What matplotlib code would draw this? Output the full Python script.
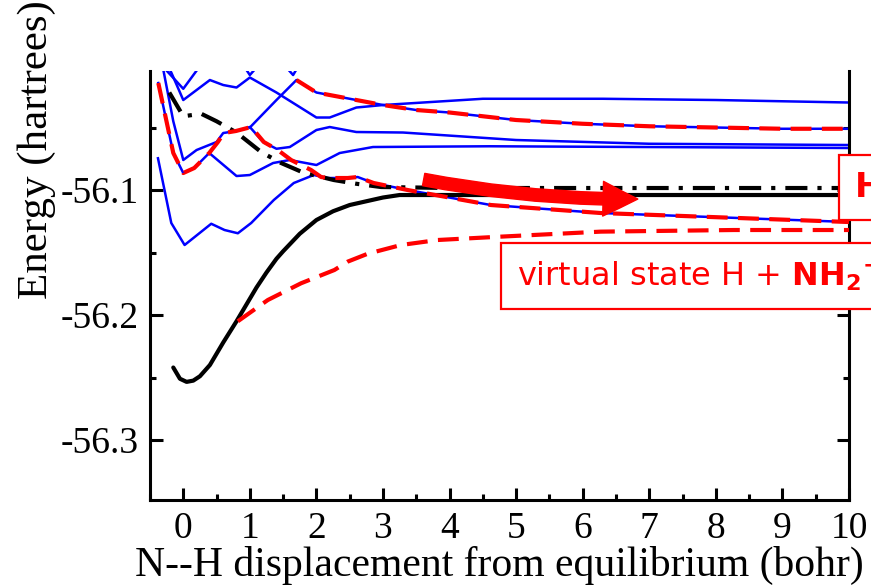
import matplotlib
matplotlib.use("Agg")
import matplotlib.pyplot as plt
from matplotlib.patches import FancyArrowPatch
from matplotlib.ticker import MultipleLocator

plt.rcParams["font.family"] = "Liberation Serif"
plt.rcParams["mathtext.fontset"] = "dejavusans"

# adiabatic states (blue)
x_t0 = [-0.5, 0.0, 0.4, 0.85, 1.0, 1.2, 1.45, 1.65, 1.85]
e_t0 = [-55.99, -56.019, -55.99, -55.996, -56.008, -55.996, -55.996, -56.008, -55.99]

x_t1 = [-0.35, -0.18, 0.0, 0.4, 0.6, 0.8, 1.0, 1.4, 2.0, 2.2, 2.6, 3.0, 4.5, 6.3, 8.0, 10.0]
e_t1 = [-55.99, -56.006, -56.028, -56.012, -56.016, -56.018, -56.010, -56.022, -56.042, -56.042,
        -56.034, -56.032, -56.027, -56.027, -56.028, -56.030]

x_r2 = [1.0, 1.4, 1.7, 2.0, 2.5, 3.0, 3.5, 4.0, 5.0, 6.0, 7.0, 8.0, 9.0, 10.0]
e_r2 = [-56.050, -56.028, -56.012, -56.022, -56.027, -56.032, -56.036, -56.038, -56.044, -56.047,
        -56.049, -56.050, -56.051, -56.051]

x_m1 = [-0.35, -0.15, 0.0, 0.2, 0.5, 0.6, 0.8, 1.0, 1.2, 1.4, 1.6, 2.0, 2.2, 2.6, 3.3, 5.0, 7.0, 10.0]
e_m1 = [-55.99, -56.045, -56.076, -56.068, -56.0616, -56.0544, -56.0528, -56.0496, -56.0616, -56.067,
        -56.0656, -56.052, -56.0496, -56.0536, -56.054, -56.060, -56.063, -56.064]

x_m2 = [-0.375, -0.15, 0.0, 0.165, 0.39, 0.8, 1.0, 1.35, 1.6, 2.0, 2.35, 2.85, 4.6, 10.0]
e_m2 = [-56.0144, -56.0704, -56.0864, -56.0824, -56.0704, -56.0888, -56.088, -56.0784, -56.076,
        -56.080, -56.0704, -56.0656, -56.065, -56.0664]

x_b1 = [-0.38, -0.18, 0.02, 0.42, 0.62, 0.82, 1.02, 1.36, 1.66, 1.96, 2.17, 2.47, 2.62, 2.86, 3.37,
        4.62, 6.27, 10.0]
e_b1 = [-56.0746, -56.1264, -56.144, -56.127, -56.132, -56.1346, -56.1264, -56.108, -56.0944, -56.088,
        -56.0904, -56.0904, -56.0896, -56.0944, -56.1, -56.112, -56.1184, -56.1256]

# diabatic states (red dashed)
x_d1 = [-0.375, -0.15, 0.0, 0.165, 0.39, 0.52, 0.61, 0.79, 1.02, 1.21, 1.42, 1.62, 1.92, 2.07, 2.17,
        2.47, 2.62, 2.86, 3.37, 4.62, 6.27, 10.0]
e_d1 = [-56.0144, -56.0704, -56.0864, -56.0824, -56.0704, -56.0616, -56.0544, -56.0528, -56.0496,
        -56.0616, -56.068, -56.076, -56.084, -56.0896, -56.0904, -56.0904, -56.0896, -56.0944, -56.1,
        -56.112, -56.1184, -56.1256]

x_d2 = x_r2[2:]
e_d2 = e_r2[2:]

# virtual state H + NH2-
x_virt = [0.82, 1.27, 1.77, 2.27, 2.47, 2.77, 3.27, 3.82, 4.77, 6.27, 8.27, 10.0]
e_virt = [-56.205, -56.188, -56.1746, -56.164, -56.1573, -56.151, -56.144, -56.140, -56.1373,
          -56.1333, -56.132, -56.132]

# ground state (black) and anion asymptote (dash-dot)
x_gs = [-0.15, -0.05, 0.05, 0.15, 0.25, 0.4, 0.5, 0.6, 0.7, 0.8, 0.9, 1.0, 1.1, 1.25, 1.4, 1.5, 1.75,
        2.0, 2.25, 2.5, 2.75, 3.0, 3.25, 4.0, 6.0, 8.0, 10.0]
e_gs = [-56.242, -56.251, -56.2535, -56.2525, -56.249, -56.240, -56.231, -56.222, -56.2135, -56.205,
        -56.196, -56.187, -56.178, -56.166, -56.155, -56.149, -56.135, -56.124, -56.117, -56.112,
        -56.109, -56.106, -56.104, -56.104, -56.104, -56.104, -56.104]

x_dd = [-0.21, 0.0, 0.27, 0.5, 0.8, 1.17, 1.47, 1.8, 2.26, 2.6, 2.97, 3.5, 4.0, 10.0]
e_dd = [-56.022, -56.041, -56.039, -56.045, -56.054, -56.0696, -56.0784, -56.086, -56.092, -56.095,
        -56.0976, -56.098, -56.0984, -56.0984]

arrow_from = (3.57, -56.0912)
arrow_to = (6.87, -56.1072)

fig = plt.figure(figsize=(8.71, 5.85), dpi=100)
ax = fig.add_axes([0.1722, 0.1453, 0.8025, 0.7333])

blue = "#0000ff"
red = "#ff0000"
for xs, es in [(x_t0, e_t0), (x_t1, e_t1), (x_r2, e_r2), (x_m1, e_m1), (x_m2, e_m2), (x_b1, e_b1)]:
    ax.plot(xs, es, color=blue, lw=1.8, zorder=2)

ax.plot(x_gs, e_gs, color="black", lw=3, zorder=3, solid_capstyle="round", solid_joinstyle="round")
ax.plot(x_dd, e_dd, color="black", lw=3, zorder=3, dashes=(5.3, 2.4, 1, 2.4))

for xs, es in [(x_d1, e_d1), (x_d2, e_d2), (x_virt, e_virt)]:
    ax.plot(xs, es, color=red, lw=3, zorder=4, dashes=(5, 2.5))

arr = FancyArrowPatch(arrow_from, arrow_to, arrowstyle="simple,head_length=25,head_width=25,tail_width=9",
                      mutation_scale=1, connectionstyle="arc3,rad=0.05", color=red, zorder=5)
ax.add_patch(arr)

ax.text(5.01, -56.1688, r"virtual state H + $\mathbf{NH_2{}^{-}}$", family="DejaVu Sans", fontsize=23,
        color=red, va="center", ha="left", zorder=6, clip_on=False,
        bbox=dict(boxstyle="square,pad=0.5", fc="white", ec=red, lw=1.6))
ax.text(10.07, -56.098, r"$\mathbf{H^{-} + NH_2}$", family="DejaVu Sans", fontsize=24,
        color=red, va="center", ha="left", zorder=6, clip_on=False,
        bbox=dict(boxstyle="square,pad=0.45", fc="white", ec=red, lw=1.6))

ax.set_xlim(-0.5, 10)
ax.set_ylim(-56.348, -56.0048)
ax.xaxis.set_major_locator(MultipleLocator(1))
ax.xaxis.set_minor_locator(MultipleLocator(0.5))
ax.yaxis.set_major_locator(MultipleLocator(0.1))
ax.yaxis.set_minor_locator(MultipleLocator(0.05))
ax.yaxis.set_major_formatter(plt.FuncFormatter(lambda v, p: "%.1f" % v))
ax.spines["top"].set_visible(False)
for s in ["left", "right", "bottom"]:
    ax.spines[s].set_linewidth(2.2)
ax.tick_params(which="both", direction="in", top=False, right=True, width=2.2, labelsize=27)
ax.tick_params(which="major", length=9, pad=8)
ax.tick_params(which="minor", length=4.5)

ax.set_xlabel("N--H displacement from equilibrium (bohr)", fontsize=30, labelpad=0)
ax.set_ylabel("Energy (hartrees)", fontsize=31)
ax.yaxis.set_label_coords(-0.135, (500 - 150) / 429)

fig.savefig("out.png", dpi=100)
